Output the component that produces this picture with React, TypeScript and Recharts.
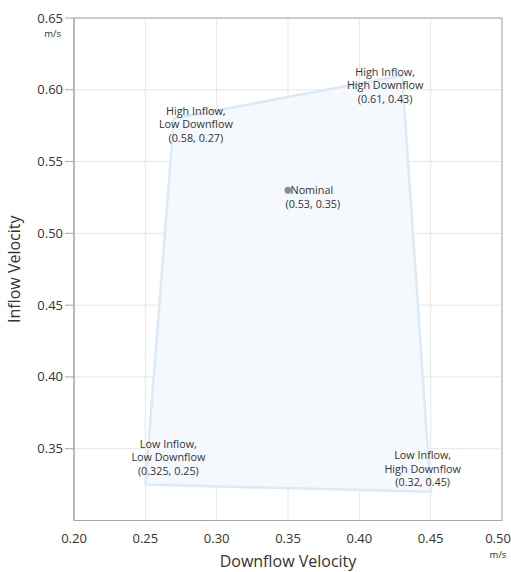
import { ScatterChart, Scatter, XAxis, YAxis, CartesianGrid, ReferenceArea, Label } from 'recharts';

// operating envelope corners
const CORNER_NAMES = [
  ['Low Inflow,', 'Low Downflow'],
  ['High Inflow,', 'Low Downflow'],
  ['High Inflow,', 'High Downflow'],
  ['Low Inflow,', 'High Downflow'],
];
const CORNER_DOWNFLOW = [0.25, 0.27, 0.43, 0.45];
const CORNER_INFLOW = [0.325, 0.58, 0.61, 0.32];

const NOMINAL_DOWNFLOW = 0.35;
const NOMINAL_INFLOW = 0.53;

const X_TICKS = [0.2, 0.25, 0.3, 0.35, 0.4, 0.45, 0.5];
const Y_TICKS = [0.35, 0.4, 0.45, 0.5, 0.55, 0.6, 0.65];

const corners = CORNER_NAMES.map((name, i) => ({
  name,
  x: CORNER_DOWNFLOW[i],
  y: CORNER_INFLOW[i],
}));
const outline = [...corners, corners[0]];
const nominal = [{ x: NOMINAL_DOWNFLOW, y: NOMINAL_INFLOW }];

const FONT = '"Open Sans", "Noto Sans", sans-serif';
const TEXT = '#333333';
const AXIS = '#a6a6a6';

// label placement relative to each corner (dx, first line dy)
const LABEL_OFFSETS = [
  { dx: 23, dy: -40.5 },
  { dx: 22, dy: -7.5 },
  { dx: -17, dy: -3.5 },
  { dx: -8, dy: -36.5 },
];
const LINE_H = 13.5;

const fmt = (v: number) => v.toFixed(2);

function XTick({ x, y, payload }: any) {
  // last label is pulled in so it stays inside the page
  const tx = payload.value === 0.5 ? x - 4 : x;
  return (
    <g>
      <text x={tx} y={y + 14} textAnchor="middle" fontSize={13} fill={TEXT} fontFamily={FONT}>
        {fmt(payload.value)}
      </text>
      {payload.value === 0.5 && (
        <text x={tx} y={y + 29} textAnchor="middle" fontSize={9.5} fill={TEXT} fontFamily={FONT}>
          m/s
        </text>
      )}
    </g>
  );
}

function YTick({ x, y, payload }: any) {
  return (
    <g>
      <text x={x} y={y + 4.5} textAnchor="end" fontSize={13} fill={TEXT} fontFamily={FONT}>
        {fmt(payload.value)}
      </text>
      {payload.value === 0.65 && (
        <text x={x - 2} y={y + 19} textAnchor="end" fontSize={9.5} fill={TEXT} fontFamily={FONT}>
          m/s
        </text>
      )}
    </g>
  );
}

function CornerLabel({ cx, cy, payload, index }: any) {
  const off = LABEL_OFFSETS[index] || { dx: 0, dy: 0 };
  const lines = [...payload.name, `(${payload.y}, ${payload.x})`];
  const tx = cx + off.dx;
  return (
    <text textAnchor="middle" fontSize={10.8} fill={TEXT} fontFamily={FONT}>
      {lines.map((l: string, i: number) => (
        <tspan key={i} x={tx} y={cy + off.dy + i * LINE_H + 3.8}>
          {l}
        </tspan>
      ))}
    </text>
  );
}

function NominalPoint({ cx, cy, payload }: any) {
  return (
    <g>
      <circle cx={cx} cy={cy} r={3.5} fill="#8c8c8c" />
      <text fontSize={10.8} fill={TEXT} fontFamily={FONT}>
        <tspan x={cx + 2.5} y={cy + 3.8}>Nominal</tspan>
        <tspan x={cx - 2.5} y={cy + 3.8 + LINE_H}>{`(${payload.y}, ${payload.x})`}</tspan>
      </text>
    </g>
  );
}

export default function App() {
  return (
    <div style={{ position: 'absolute', left: 0, top: 0, width: 511, height: 572 }}>
      <ScatterChart width={511} height={572} margin={{ top: 18, right: 9, bottom: 0, left: 0 }}>
        <CartesianGrid stroke="#e6e6e6" />
        <XAxis
          type="number"
          dataKey="x"
          domain={[0.2, 0.5]}
          ticks={X_TICKS}
          interval={0}
          height={51.5}
          tickLine={false}
          axisLine={{ stroke: AXIS }}
          tick={<XTick />}
          allowDataOverflow
        >
          <Label
            value="Downflow Velocity"
            position="insideBottom"
            offset={5}
            fontSize={16}
            fill={TEXT}
            fontFamily={FONT}
          />
        </XAxis>
        <YAxis
          type="number"
          dataKey="y"
          domain={[0.3, 0.65]}
          ticks={Y_TICKS}
          interval={0}
          width={74}
          tickSize={9}
          tickLine={{ stroke: AXIS }}
          axisLine={{ stroke: AXIS }}
          tick={<YTick />}
          allowDataOverflow
        >
          <Label
            content={({ viewBox }: any) => {
              const cy = viewBox.y + viewBox.height / 2;
              return (
                <text
                  x={19.5}
                  y={cy}
                  transform={`rotate(-90, 19.5, ${cy})`}
                  textAnchor="middle"
                  fontSize={16}
                  fill={TEXT}
                  fontFamily={FONT}
                >
                  Inflow Velocity
                </text>
              );
            }}
          />
        </YAxis>
        <ReferenceArea x1={0.2} x2={0.5} y1={0.3} y2={0.65} fill="none" stroke={AXIS} strokeWidth={1} />
        <Scatter
          data={outline}
          fill="#dce9f7"
          line={{ stroke: '#dce9f7', strokeWidth: 2.5, fill: '#f5f8fd' }}
          lineType="joint"
          shape={() => <g />}
          isAnimationActive={false}
        />
        <Scatter data={corners} shape={<CornerLabel />} isAnimationActive={false} />
        <Scatter data={nominal} shape={<NominalPoint />} isAnimationActive={false} />
      </ScatterChart>
    </div>
  );
}
